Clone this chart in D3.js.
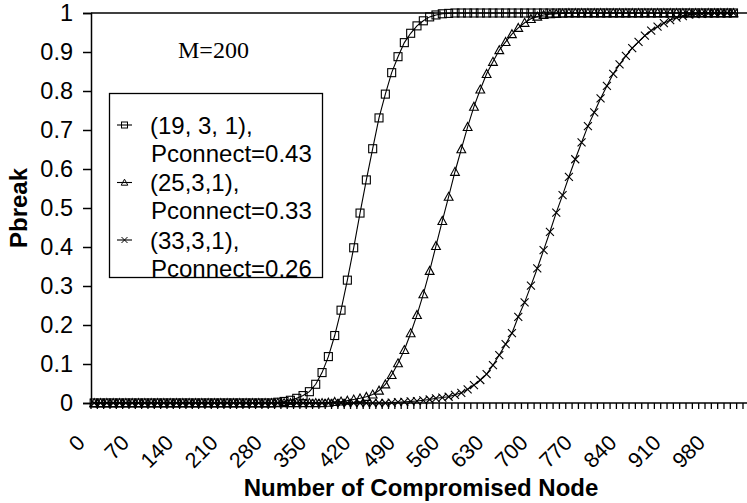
<!DOCTYPE html>
<html>
<head>
<meta charset="utf-8">
<script src="https://cdn.jsdelivr.net/npm/d3@7"></script>
<style>
  body { margin: 0; background: #fff; }
  svg { display: block; }
</style>
</head>
<body>
<svg id="chart"></svg>
<script>
// categories on the x axis (step 10), the data runs to 1010
const categories = [0,10,20,30,40,50,60,70,80,90,100,110,120,130,140,150,160,170,180,190,
  200,210,220,230,240,250,260,270,280,290,300,310,320,330,340,350,360,370,380,390,
  400,410,420,430,440,450,460,470,480,490,500,510,520,530,540,550,560,570,580,590,
  600,610,620,630,640,650,660,670,680,690,700,710,720,730,740,750,760,770,780,790,
  800,810,820,830,840,850,860,870,880,890,900,910,920,930,940,950,960,970,980,990,
  1000,1010,1020,1030];

const xTickLabels = ["0","70","140","210","280","350","420","490","560","630","700","770","840","910","980"];
const yTickValues = [0,0.1,0.2,0.3,0.4,0.5,0.6,0.7,0.8,0.9,1];
const yTickLabels = ["0","0.1","0.2","0.3","0.4","0.5","0.6","0.7","0.8","0.9","1"];

// (19, 3, 1), Pconnect=0.43
const pbreak19 = [0,0,0,0,0,0,0,0,0,0,
  0,0,0,0,0,0,0,0,0,0,
  0,0,0,0,0,0,0,0,0,0.002,
  0.004,0.007,0.012,0.019,0.029,0.048,0.078,0.119,0.173,0.238,
  0.315,0.398,0.487,0.572,0.652,0.731,0.792,0.847,0.888,0.924,
  0.948,0.967,0.98,0.99,0.995,0.998,0.999,1,1,1,
  1,1,1,1,1,1,1,1,1,1,
  1,1,1,1,1,1,1,1,1,1,
  1,1,1,1,1,1,1,1,1,1,
  1,1,1,1,1,1,1,1,1,1,
  1,1];

// (25,3,1), Pconnect=0.33
const pbreak25 = [0,0,0,0,0,0,0,0,0,0,
  0,0,0,0,0,0,0,0,0,0,
  0,0,0,0,0,0,0,0,0,0,
  0,0,0,0,0,0,0,0.001,0.003,0.004,
  0.006,0.009,0.012,0.016,0.022,0.032,0.048,0.072,0.102,0.136,
  0.179,0.226,0.279,0.339,0.403,0.467,0.529,0.593,0.651,0.708,
  0.76,0.804,0.844,0.875,0.905,0.926,0.946,0.962,0.975,0.985,
  0.991,0.995,0.997,0.998,0.999,1,1,1,1,1,
  1,1,1,1,1,1,1,1,1,1,
  1,1,1,1,1,1,1,1,1,1,
  1,1];

// (33,3,1), Pconnect=0.26
const pbreak33 = [0,0,0,0,0,0,0,0,0,0,
  0,0,0,0,0,0,0,0,0,0,
  0,0,0,0,0,0,0,0,0,0,
  0,0,0,0,0,0,0,0,0,0,
  0,0,0,0,0,0,0,0.001,0.002,0.003,
  0.004,0.005,0.007,0.009,0.012,0.014,0.016,0.021,0.026,0.035,
  0.046,0.059,0.074,0.097,0.123,0.151,0.179,0.221,0.258,0.301,
  0.345,0.392,0.439,0.488,0.533,0.58,0.625,0.668,0.71,0.745,
  0.781,0.813,0.844,0.868,0.89,0.91,0.926,0.942,0.955,0.965,
  0.974,0.982,0.988,0.992,0.996,0.997,0.998,0.999,1,1,
  1,1];

const seriesNames = [["(19, 3, 1),", "Pconnect=0.43"], ["(25,3,1),", "Pconnect=0.33"], ["(33,3,1),", "Pconnect=0.26"]];
const seriesValues = [pbreak19, pbreak25, pbreak33];
const seriesMarkers = ["square", "triangle", "cross"];

const width = 747, height = 503;
const plotLeft = 91, plotTop = 13, plotBottom = 403;
const bandW = 6.33;

const svg = d3.select("#chart")
  .attr("width", width)
  .attr("height", height)
  .attr("viewBox", [0, 0, width, height]);

const x = d3.scaleBand()
  .domain(categories)
  .range([plotLeft, plotLeft + categories.length * bandW])
  .padding(0);
const xc = c => x(c) + x.bandwidth() / 2;
const y = d3.scaleLinear([0, 1], [plotBottom, plotTop]);

// top border of the plot area
svg.append("line")
  .attr("x1", plotLeft).attr("x2", width)
  .attr("y1", plotTop).attr("y2", plotTop)
  .attr("stroke", "#000").attr("stroke-width", 1.5);

// y axis
const yAxis = svg.append("g")
  .attr("transform", `translate(${plotLeft},0)`)
  .call(d3.axisLeft(y)
    .tickValues(yTickValues)
    .tickSize(8)
    .tickPadding(10)
    .tickFormat((d, i) => yTickLabels[i]));
yAxis.select(".domain").attr("stroke-width", 1.5);
yAxis.selectAll(".tick line").attr("stroke-width", 1.5);
yAxis.selectAll("text")
  .attr("font-family", "Liberation Sans, Arial, sans-serif")
  .attr("font-size", 23.5)
  .attr("fill", "#000");

// x axis (category boundaries carry the ticks)
const xg = svg.append("g");
xg.append("line")
  .attr("x1", plotLeft).attr("x2", width)
  .attr("y1", plotBottom).attr("y2", plotBottom)
  .attr("stroke", "#000").attr("stroke-width", 1.5);
xg.selectAll(".xt")
  .data(categories)
  .join("line")
  .attr("class", "xt")
  .attr("x1", d => x(d)).attr("x2", d => x(d))
  .attr("y1", plotBottom).attr("y2", plotBottom + 6)
  .attr("stroke", "#000").attr("stroke-width", 1.3);

xg.selectAll(".xl")
  .data(xTickLabels)
  .join("text")
  .attr("class", "xl")
  .attr("text-anchor", "end")
  .attr("font-family", "Liberation Sans, Arial, sans-serif")
  .attr("font-size", 21.5)
  .attr("transform", d => `translate(${xc(+d) - 8},444) rotate(-45)`)
  .text(d => d);

// axis titles
svg.append("text")
  .attr("x", 421).attr("y", 496)
  .attr("text-anchor", "middle")
  .attr("font-family", "Liberation Sans, Arial, sans-serif")
  .attr("font-weight", "bold")
  .attr("font-size", 24)
  .text("Number of Compromised Node");

svg.append("text")
  .attr("transform", "translate(27,208) rotate(-90)")
  .attr("text-anchor", "middle")
  .attr("font-family", "Liberation Sans, Arial, sans-serif")
  .attr("font-weight", "bold")
  .attr("font-size", 24)
  .text("Pbreak");

svg.append("text")
  .attr("x", 178).attr("y", 58)
  .attr("font-family", "Liberation Serif, Times New Roman, serif")
  .attr("font-size", 24)
  .text("M=200");

// markers
function marker(g, type, s) {
  if (type === "square") {
    g.append("rect").attr("x", -s / 2).attr("y", -s / 2).attr("width", s).attr("height", s);
  } else if (type === "triangle") {
    g.append("path").attr("d", `M0,${-s * 0.55}L${s * 0.55},${s * 0.45}L${-s * 0.55},${s * 0.45}Z`);
  } else {
    g.append("path").attr("d", `M${-s / 2},${-s / 2}L${s / 2},${s / 2}M${-s / 2},${s / 2}L${s / 2},${-s / 2}`);
  }
}

const line = d3.line()
  .x((d, i) => xc(categories[i]))
  .y(d => y(d));

seriesValues.forEach((vals, k) => {
  const g = svg.append("g").attr("fill", "none").attr("stroke", "#000");
  g.append("path")
    .attr("d", line(vals))
    .attr("stroke-width", 1.1);
  g.selectAll("g")
    .data(vals)
    .join("g")
    .attr("transform", (d, i) => `translate(${xc(categories[i])},${y(d)})`)
    .attr("stroke-width", 1.1)
    .each(function () { marker(d3.select(this), seriesMarkers[k], 8); });
});

// legend
const legend = svg.append("g");
legend.append("rect")
  .attr("x", 109.5).attr("y", 93.5)
  .attr("width", 213).attr("height", 184)
  .attr("fill", "#fff").attr("stroke", "#000").attr("stroke-width", 1.3);

const items = legend.selectAll(".item")
  .data(seriesNames)
  .join("g")
  .attr("class", "item")
  .attr("transform", (d, i) => `translate(0,${125 + i * 57.5})`);

items.append("line")
  .attr("x1", 117).attr("x2", 132)
  .attr("stroke", "#000").attr("stroke-width", 1.1);
items.append("g")
  .attr("transform", "translate(124.5,0)")
  .attr("fill", "none").attr("stroke", "#000").attr("stroke-width", 1)
  .each(function (d, i) { marker(d3.select(this), seriesMarkers[i], 6); });

items.append("text")
  .attr("x", 150).attr("y", 8.5)
  .attr("font-family", "Liberation Sans, Arial, sans-serif")
  .attr("font-size", 24)
  .text(d => d[0]);
items.append("text")
  .attr("x", 151).attr("y", 36.5)
  .attr("font-family", "Liberation Sans, Arial, sans-serif")
  .attr("font-size", 24)
  .text(d => d[1]);
</script>
</body>
</html>
